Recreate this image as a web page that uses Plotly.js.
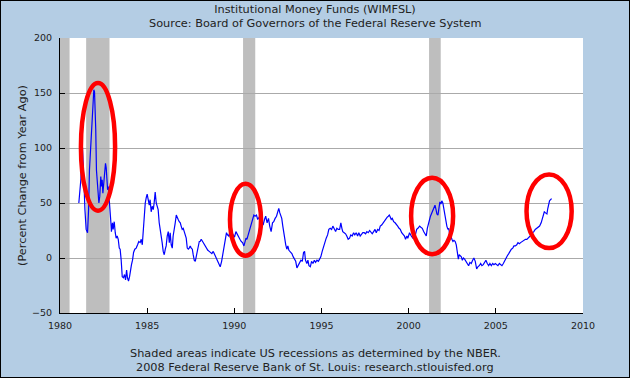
<!DOCTYPE html>
<html><head><meta charset="utf-8">
<script src="https://cdn.plot.ly/plotly-3.0.1.min.js"></script>
<style>
html,body{margin:0;padding:0;background:rgb(180,205,228);}
#wrap{position:relative;width:630px;height:378px;overflow:hidden;}
#chart{width:630px;height:378px;}
#frame{position:absolute;left:0;top:0;width:628px;height:376px;border:1px solid #000;pointer-events:none;}
</style>
</head><body><div id="wrap"><div id="chart"></div><div id="frame"></div></div>
<script>
// Decimal year of each observation
const years = [
1981.08,1981.12,1981.16,1981.20,1981.27,1981.31,1981.37,1981.43,1981.50,1981.58,1981.64,1981.69,1981.77,1981.83,1981.88,1981.94,1981.98,
1982.02,1982.05,1982.09,1982.13,1982.19,1982.23,1982.28,1982.34,1982.38,1982.42,1982.46,1982.51,1982.57,1982.61,1982.65,1982.69,1982.73,1982.77,1982.80,1982.84,1982.88,1982.92,1982.95,
1983.01,1983.05,1983.11,1983.17,1983.22,1983.28,1983.34,1983.40,1983.45,1983.51,1983.57,1983.64,1983.70,1983.76,1983.82,1983.87,1983.93,1983.99,
1984.04,1984.10,1984.16,1984.22,1984.29,1984.37,1984.45,1984.52,1984.60,1984.66,1984.72,1984.77,1984.83,1984.89,1984.95,
1985.00,1985.06,1985.12,1985.17,1985.23,1985.29,1985.35,1985.40,1985.46,1985.52,1985.58,1985.63,1985.69,1985.75,1985.81,1985.86,1985.92,1985.98,
1986.04,1986.09,1986.15,1986.21,1986.27,1986.32,1986.38,1986.44,1986.49,1986.55,1986.61,1986.67,1986.72,1986.78,1986.84,1986.90,1986.95,
1987.01,1987.07,1987.13,1987.18,1987.24,1987.30,1987.36,1987.41,1987.47,1987.53,1987.59,1987.64,1987.70,1987.76,1987.81,1987.87,1987.93,1987.99,
1988.04,1988.10,1988.18,1988.25,1988.33,1988.41,1988.48,1988.56,1988.64,1988.71,1988.79,1988.87,1988.94,
1989.02,1989.11,1989.19,1989.27,1989.34,1989.42,1989.50,1989.55,1989.61,1989.67,1989.72,1989.78,1989.86,1989.94,
1990.01,1990.09,1990.17,1990.24,1990.32,1990.40,1990.47,1990.55,1990.61,1990.67,1990.72,1990.78,1990.84,1990.90,1990.95,
1991.00,1991.06,1991.12,1991.19,1991.27,1991.34,1991.42,1991.50,1991.57,1991.65,1991.73,1991.80,1991.88,1991.96,
1992.03,1992.11,1992.19,1992.26,1992.34,1992.42,1992.49,1992.55,1992.61,1992.67,1992.72,1992.78,1992.84,1992.90,1992.95,
1993.01,1993.07,1993.13,1993.20,1993.30,1993.38,1993.45,1993.52,1993.59,1993.67,1993.74,1993.82,1993.90,1993.97,
1994.03,1994.08,1994.16,1994.22,1994.28,1994.36,1994.43,1994.51,1994.59,1994.66,1994.74,1994.82,1994.89,1994.96,
1995.04,1995.12,1995.19,1995.27,1995.35,1995.42,1995.50,1995.58,1995.65,1995.73,1995.81,1995.88,1995.96,
1996.04,1996.11,1996.17,1996.22,1996.30,1996.38,1996.45,1996.53,1996.61,1996.68,1996.76,1996.84,1996.91,1996.99,
1997.07,1997.14,1997.22,1997.30,1997.37,1997.45,1997.53,1997.60,1997.68,1997.76,1997.83,1997.91,1997.99,
1998.07,1998.14,1998.22,1998.30,1998.37,1998.45,1998.53,1998.60,1998.68,1998.76,1998.83,1998.89,1998.95,
1999.00,1999.06,1999.14,1999.22,1999.29,1999.37,1999.45,1999.52,1999.60,1999.68,1999.76,1999.82,1999.90,1999.95,
2000.05,2000.15,2000.24,2000.34,2000.40,2000.46,2000.53,2000.63,2000.70,2000.78,2000.86,2000.94,
2001.01,2001.07,2001.14,2001.20,2001.25,2001.33,2001.39,2001.45,2001.51,2001.57,2001.62,2001.68,2001.73,2001.79,2001.85,2001.90,2001.96,
2002.02,2002.07,2002.13,2002.19,2002.25,2002.30,2002.36,2002.42,2002.48,2002.54,2002.60,2002.67,2002.73,2002.79,2002.85,2002.90,2002.96,
2003.02,2003.08,2003.14,2003.21,2003.28,2003.36,2003.44,2003.51,2003.59,2003.67,2003.74,2003.82,2003.90,2003.97,
2004.05,2004.13,2004.20,2004.28,2004.36,2004.43,2004.51,2004.59,2004.66,2004.74,2004.82,2004.89,2004.97,
2005.05,2005.12,2005.20,2005.28,2005.35,2005.43,2005.51,2005.58,2005.66,2005.74,2005.81,2005.89,2005.97,
2006.04,2006.12,2006.20,2006.27,2006.35,2006.42,2006.50,2006.58,2006.70,2006.78,2006.85,2006.90,2006.95,
2007.03,2007.10,2007.18,2007.26,2007.33,2007.41,2007.51,2007.60,2007.70,2007.78,2007.85,2007.93,2007.98,
2008.04,2008.08,2008.14,2008.20
];
// Percent change from year ago
const pctChange = [
50,60,65,72,107,95,71,44,26,23,44,80,101,114,135,153,151,
135,117,80,68,53,50,56,74,65,71,59,68,80,86,82,65,62,65,56,50,41,32,24,
32,26,33,23,18,20,17,9,8,-2,-17,-18,-15,-20,-11,-18,-21,-17,
-11,-6,-2,5,8,9,12,15,14,17,12,26,38,50,55,
58,53,48,53,42,47,44,50,60,50,45,44,32,26,23,14,6,3,
8,11,20,24,14,23,12,9,20,29,32,39,36,35,33,32,29,
26,27,24,23,18,9,8,9,11,9,8,3,-2,-3,1,5,9,15,
15,17,15,13,11,9,7,6,5,4,6,3,1,
-2,-6,-8,-3,3,11,18,23,21,20,22,18,23,21,
19,24,21,20,17,15,14,11,14,18,17,20,23,26,29,
33,36,39,38,39,35,37,39,33,30,35,38,32,36,
29,24,32,33,36,38,42,45,41,39,36,29,21,17,12,
8,11,7,6,4,1,-1,-3,-9,-7,-5,-2,-3,5,
6,-2,-5,-2,-7,-8,-3,-5,-2,-4,-2,-3,-1,1,
6,11,15,18,21,26,27,26,29,27,24,27,26,
26,32,27,24,23,22,20,17,18,21,20,23,21,23,
20,23,20,22,23,23,22,24,23,25,23,22,24,
26,23,26,25,29,30,32,33,35,37,38,39,37,
35,36,33,32,31,29,27,26,23,21,20,17,20,18,
23,20,18,18,24,26,27,29,28,27,24,22,
20,27,33,35,38,41,42,45,48,44,40,39,47,51,49,52,50,
44,38,32,29,26,27,21,20,17,15,16,15,12,3,-1,3,2,
1,-2,0,-1,-3,-6,-7,-4,-5,-2,0,-3,-10,-8,
-7,-5,-7,-6,-4,-2,-5,-7,-5,-7,-5,-6,-5,
-6,-7,-5,-6,-7,-5,-2,0,2,4,6,8,9,
11,11,12,14,13,14,15,16,17,17,18,19,20,
21,23,24,26,27,28,29,32,37,42,41,40,45,
49,52,53,54
];
// NBER recessions (decimal years)
const recessionStart = [1980.0, 1981.5, 1990.5, 2001.17];
const recessionEnd = [1980.55, 1982.84, 1991.2, 2001.84];
const xTickVals = [1980, 1985, 1990, 1995, 2000, 2005, 2010];
const yTickVals = [-50, 0, 50, 100, 150, 200];
const yGridVals = [0, 50, 100, 150];

const FONT = 'DejaVu Sans, Verdana, sans-serif';
const TXT = '#222222';
const TS = 11.3;

const shapes = [];
for (let i = 0; i < recessionStart.length; i++) {
  shapes.push({type:'rect', xref:'x', yref:'paper', x0:recessionStart[i], x1:recessionEnd[i], y0:0, y1:1,
    fillcolor:'#bebebe', line:{width:0}, layer:'between'});
}
// hand-drawn red highlight ellipses
const ellipses = [
  [1981.20, 1983.16, 43, 159],
  [1989.75, 1991.53, 2, 67.5],
  [2000.14, 2002.55, 3.5, 73],
  [2006.76, 2009.35, 9, 76]
];
ellipses.forEach(e => shapes.push({type:'circle', xref:'x', yref:'y', x0:e[0], x1:e[1], y0:e[2], y1:e[3],
  line:{color:'#ff0000', width:4.5}, layer:'above'}));

const trace = {x: years, y: pctChange, type:'scatter', mode:'lines',
  line:{color:'#0000ff', width:1.2}, hoverinfo:'skip'};

const layout = {
  width:630, height:378,
  paper_bgcolor:'rgb(180,205,228)', plot_bgcolor:'#ffffff',
  margin:{l:60, r:47, t:38, b:65, pad:0},
  showlegend:false,
  font:{family:FONT, size:TS, color:TXT},
  title:{text:'Institutional Money Funds (WIMFSL)', font:{family:FONT, size:TS, color:TXT},
    xref:'container', x:0.5, xanchor:'center', yref:'container', y:1-9.5/378, yanchor:'middle'},
  xaxis:{range:[1980,2010], tickvals:xTickVals, ticktext:xTickVals.map(String), ticks:'inside', ticklen:5,
    tickcolor:'#000', showline:true, linecolor:'#000', linewidth:1, showgrid:false, zeroline:false,
    tickfont:{family:FONT, size:9.5, color:TXT}, ticklabelstandoff:4, fixedrange:true},
  yaxis:{range:[-50,200], tickvals:yTickVals, ticktext:yTickVals.map(v => v < 0 ? '\u2212' + Math.abs(v) : String(v)),
    ticks:'inside', ticklen:5, tickcolor:'#000', showline:true, linecolor:'#000', linewidth:1,
    showgrid:false, zeroline:false, tickfont:{family:FONT, size:9.5, color:TXT}, ticklabelstandoff:5,
    title:{text:'(Percent Change from Year Ago)', font:{family:FONT, size:TS, color:TXT}, standoff:3},
    fixedrange:true},
  yaxis2:{overlaying:'y', side:'left', range:[-50,200], tickvals:yGridVals, showgrid:true, gridcolor:'#aaaaaa',
    gridwidth:1, showticklabels:false, ticks:'', showline:false, zeroline:false, fixedrange:true},
  shapes: shapes,
  annotations:[
    {text:'Source: Board of Governors of the Federal Reserve System', xref:'paper', yref:'paper',
      x:(315-60)/523, y:(313-23.5)/275, xanchor:'center', yanchor:'middle', showarrow:false,
      font:{family:FONT, size:TS, color:TXT}},
    {text:'Shaded areas indicate US recessions as determined by the NBER.', xref:'paper', yref:'paper',
      x:(315-60)/523, y:(313-353.3)/275, xanchor:'center', yanchor:'middle', showarrow:false,
      font:{family:FONT, size:TS, color:TXT}},
    {text:'2008 Federal Reserve Bank of St. Louis: research.stlouisfed.org', xref:'paper', yref:'paper',
      x:(315-60)/523, y:(313-367.7)/275, xanchor:'center', yanchor:'middle', showarrow:false,
      font:{family:FONT, size:TS, color:TXT}}
  ]
};
// invisible trace to activate the gridline axis
const gridTrace = {x:[1980], y:[0], yaxis:'y2', type:'scatter', mode:'none', hoverinfo:'skip', showlegend:false};

Plotly.newPlot('chart', [gridTrace, trace], layout, {staticPlot:true, displayModeBar:false});
</script>
</body></html>
